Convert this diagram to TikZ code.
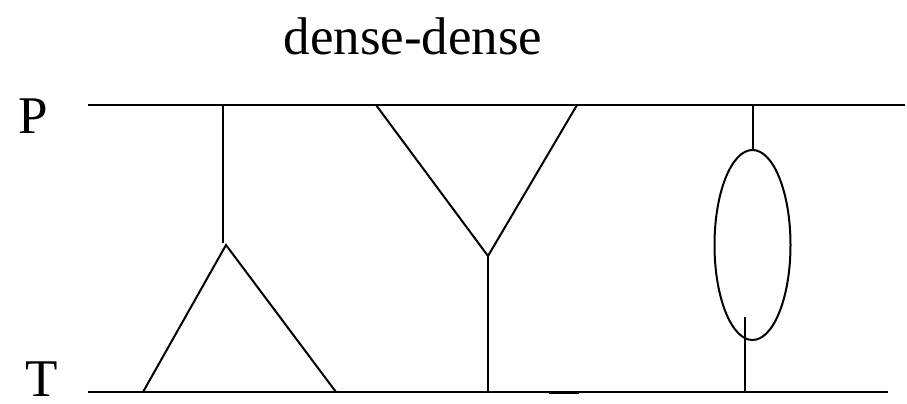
\documentclass[tikz,border=0pt]{standalone}
\usepackage{fontspec}
\setmainfont{Liberation Serif}
\usetikzlibrary{shapes.geometric}
\begin{document}
\begin{tikzpicture}[x=1pt,y=-1pt,
  ln/.style={line width=2pt,black},
  lbl/.style={font=\fontsize{53}{60}\selectfont,anchor=base,inner sep=0pt}]
\useasboundingbox (0,0) rectangle (907,404);
% labels
\node[lbl] (title) at (413,55) {dense-dense};
\node[lbl] (P) at (33,133) {P};
\node[lbl] (T) at (42,396) {T};
% rails
\coordinate (p0) at (88,105); \coordinate (p1) at (905,105);
\coordinate (t0) at (88,392); \coordinate (t1) at (888,392);
\draw[ln] (p0) -- (p1);
\draw[ln] (t0) -- (t1);
\coordinate (tk0) at (549,392); \coordinate (tk1) at (579,392);
\draw[line width=3pt] (tk0) -- (tk1);
% feature 1: stick and triangle
\coordinate (a0) at (223,105); \coordinate (a1) at (223,243);
\coordinate (apex) at (226,245);
\coordinate (bl) at (143,392); \coordinate (br) at (336,392);
\draw[ln] (a0) -- (a1);
\draw[ln] (bl) -- (apex) -- (br);
% feature 2: Y
\coordinate (yl) at (376,105); \coordinate (yr) at (577,105);
\coordinate (yc) at (488,256); \coordinate (yb) at (488,392);
\draw[ln] (yl) -- (yc) -- (yr);
\draw[ln] (yc) -- (yb);
% feature 3: ellipse
\node[draw,ln,ellipse,minimum width=76pt,minimum height=190pt,inner sep=0pt] (ell) at (752.5,245) {};
\coordinate (e0) at (752.5,105);
\draw[ln] (e0) -- (ell.north);
\coordinate (f0) at (745,317); \coordinate (f1) at (745,392);
\draw[ln] (f0) -- (f1);
\end{tikzpicture}
\end{document}
